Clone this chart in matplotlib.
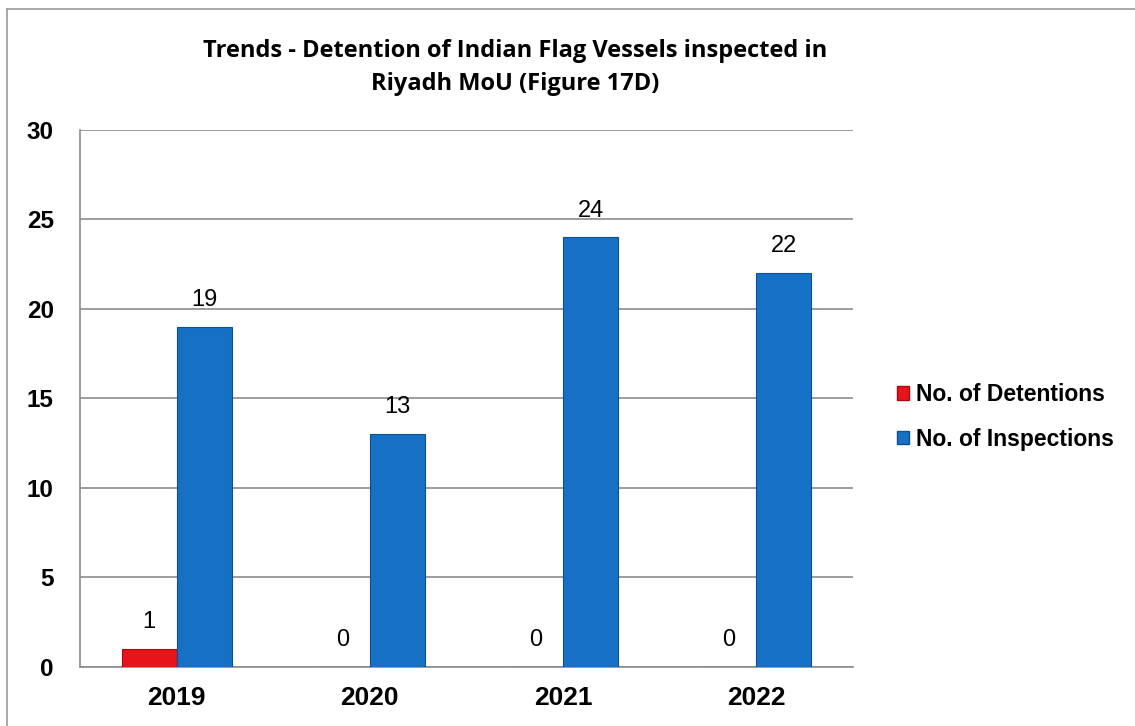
import matplotlib.pyplot as plt
import matplotlib.patches as mpatches
import numpy as np

years = ['2019', '2020', '2021', '2022']
detentions = [1, 0, 0, 0]
inspections = [19, 13, 24, 22]

RED = '#e8141c'
BLUE = '#1670c4'
GRID = '#8c8c8c'

fig = plt.figure(figsize=(11.35, 7.26), dpi=100)
ax = fig.add_axes([0.0705, 0.0813, 0.681, 0.7397])

x = np.arange(len(years))
w = 0.285
b1 = ax.bar(x - w/2, detentions, w, color=RED, edgecolor='#a80a10', linewidth=0.8, zorder=3)
b2 = ax.bar(x + w/2, inspections, w, color=BLUE, edgecolor='#0d4f8f', linewidth=0.8, zorder=3)

# data labels above bars
for bars, vals in ((b1, detentions), (b2, inspections)):
	for bar, v in zip(bars, vals):
		ax.text(bar.get_x() + bar.get_width()/2, v + 1.5, str(v), ha='center', va='center',
			fontsize=17, family='Liberation Sans', color='black')

ax.set_xlim(-0.5, len(years) - 0.5)
ax.set_ylim(0, 30)
ax.set_yticks(range(0, 31, 5))
ax.yaxis.grid(True, color=GRID, linewidth=1.2, zorder=0)
ax.set_axisbelow(True)
for s in ['top', 'right']:
	ax.spines[s].set_visible(False)
ax.spines['left'].set_color(GRID)
ax.spines['bottom'].set_color(GRID)
ax.spines['left'].set_linewidth(1.2)
ax.spines['bottom'].set_linewidth(1.2)
ax.tick_params(axis='both', length=0)
ax.tick_params(axis='y', pad=19)
ax.tick_params(axis='x', pad=14)
ax.set_xticks(x)
ax.set_xticklabels(years, fontsize=19, fontweight='bold', family='Liberation Sans')
for t in ax.get_yticklabels():
	t.set_fontsize(17.5)
	t.set_fontweight('bold')
	t.set_family('Liberation Sans')

fig.text(0.454, 0.907, 'Trends - Detention of Indian Flag Vessels inspected in\nRiyadh MoU (Figure 17D)',
	ha='center', va='center', fontsize=17, fontweight='bold', family='Open Sans', linespacing=1.45)

handles = [mpatches.Patch(facecolor=RED, edgecolor='#a80a10'), mpatches.Patch(facecolor=BLUE, edgecolor='#0d4f8f')]
fig.legend(handles, ['No. of Detentions', 'No. of Inspections'], loc='center left', bbox_to_anchor=(0.772, 0.426),
	frameon=False, prop={'family': 'Liberation Sans', 'weight': 'bold', 'size': 16.5},
	handlelength=0.55, handleheight=0.55, handletextpad=0.3, labelspacing=0.95)

# outer chart border (left and top edges visible)
fig.add_artist(plt.Line2D([0.0065, 0.0065], [0, 0.988], transform=fig.transFigure, color='#999999', lw=1.2))
fig.add_artist(plt.Line2D([0.0065, 1], [0.988, 0.988], transform=fig.transFigure, color='#999999', lw=1.2))

fig.savefig('out.png', dpi=100)
